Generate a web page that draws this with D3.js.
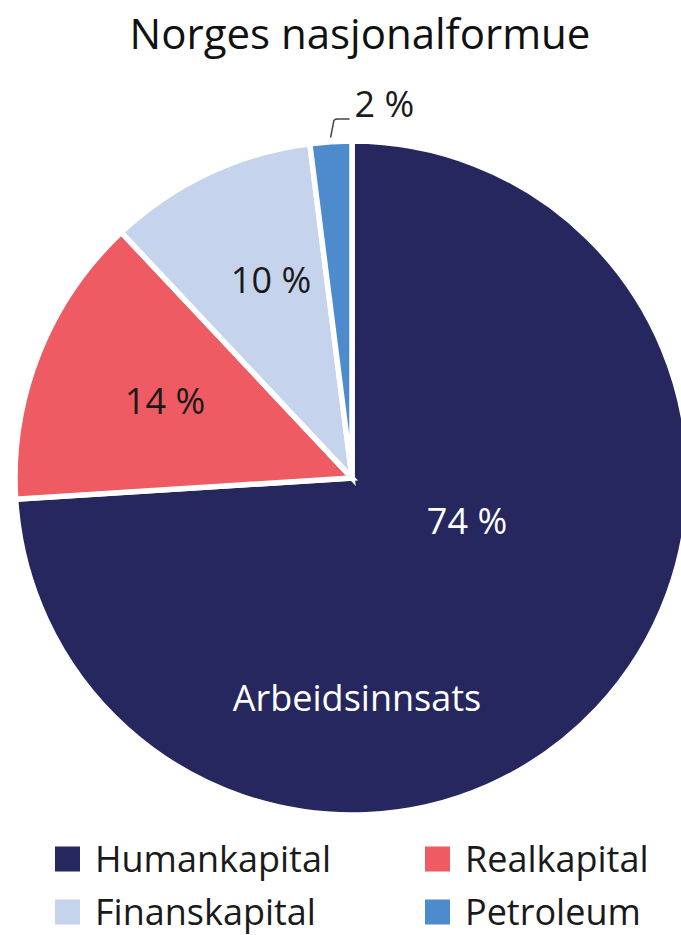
<!DOCTYPE html>
<html>
<head>
<meta charset="utf-8">
<script src="https://cdn.jsdelivr.net/npm/d3@7"></script>
<style>
  body { margin: 0; background: #fff; }
  text { font-family: "Open Sans", sans-serif; }
</style>
</head>
<body>
<div id="chart"></div>
<script>
var categories = ["Humankapital", "Realkapital", "Finanskapital", "Petroleum"];
var shares = [74, 14, 10, 2];
var colours = ["#27275f", "#ef5b62", "#c5d3ec", "#4d8bcc"];
var sliceLabels = ["74 %", "14 %", "10 %", "2 %"];

var width = 681, height = 935;
var cx = 352, cy = 478, radius = 337;

var svg = d3.select("#chart").append("svg")
  .attr("width", width)
  .attr("height", height);

svg.append("text")
  .attr("x", 360)
  .attr("y", 49)
  .attr("text-anchor", "middle")
  .style("font-size", "42px")
  .style("fill", "#111")
  .text("Norges nasjonalformue");

var pie = d3.pie().sort(null).value(function (d) { return d; });
var arc = d3.arc().innerRadius(0).outerRadius(radius);
var arcs = pie(shares);

var g = svg.append("g").attr("transform", "translate(" + cx + "," + cy + ")");

g.selectAll("path.slice")
  .data(arcs)
  .enter()
  .append("path")
  .attr("class", "slice")
  .attr("d", arc)
  .style("fill", function (d, i) { return colours[i]; })
  .style("stroke", "#fff")
  .style("stroke-width", 5.5)
  .style("stroke-linejoin", "miter");

// hand placed label spots, relative to the pie centre
var labelSpots = [[115, 43], [-187, -77], [-81, -198]];
var labelFill = ["#fff", "#1a1a1a", "#1a1a1a"];

labelSpots.forEach(function (p, i) {
  g.append("text")
    .attr("x", p[0]).attr("y", p[1])
    .attr("dy", "0.35em")
    .attr("text-anchor", "middle")
    .style("font-size", "36px")
    .style("fill", labelFill[i])
    .text(sliceLabels[i]);
});

g.append("text")
  .attr("x", 5).attr("y", 220)
  .attr("dy", "0.35em")
  .attr("text-anchor", "middle")
  .style("font-size", "36px")
  .style("fill", "#fff")
  .text("Arbeidsinnsats");

// small slice: leader line + label outside
var edge = d3.arc().innerRadius(radius + 4).outerRadius(radius + 4).centroid(arcs[3]);
var elbow = [edge[0] + 3, -359];
g.append("path")
  .attr("d", "M" + edge[0] + "," + edge[1] + " L" + elbow[0] + "," + (elbow[1] + 3) +
             " Q" + elbow[0] + "," + elbow[1] + " " + (elbow[0] + 4) + "," + elbow[1] +
             " L" + (elbow[0] + 16) + "," + elbow[1])
  .style("fill", "none")
  .style("stroke", "#444")
  .style("stroke-width", 1.5);

g.append("text")
  .attr("x", elbow[0] + 21).attr("y", -374)
  .attr("dy", "0.35em")
  .style("font-size", "36px")
  .style("fill", "#1a1a1a")
  .text(sliceLabels[3]);

// legend, two columns
var legend = svg.append("g");
var item = legend.selectAll("g.item")
  .data(categories)
  .enter()
  .append("g")
  .attr("class", "item")
  .attr("transform", function (d, i) {
    var col = i % 2, row = Math.floor(i / 2);
    return "translate(" + (55 + col * 370) + "," + (859 + row * 53) + ")";
  });

item.append("rect")
  .attr("x", 0).attr("y", -12.5)
  .attr("width", 25).attr("height", 25)
  .style("fill", function (d, i) { return colours[i]; });

item.append("text")
  .attr("x", 40).attr("y", 0)
  .attr("dy", "0.35em")
  .style("font-size", "36px")
  .style("fill", "#1a1a1a")
  .text(function (d) { return d; });
</script>
</body>
</html>
